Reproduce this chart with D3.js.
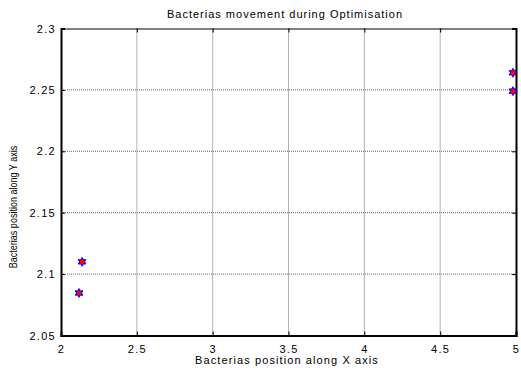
<!DOCTYPE html>
<html>
<head>
<meta charset="utf-8">
<script src="https://cdn.jsdelivr.net/npm/d3@7"></script>
<style>
  body { margin: 0; background: #fff; }
  text { font-family: Arial, "Liberation Sans", sans-serif; }
</style>
</head>
<body>
<svg id="chart"></svg>
<script>
// bacteria positions
let xValues = [2.119, 2.139, 4.98, 4.98];
let yValues = [2.0846, 2.110, 2.264, 2.249];
let xTicks = [2, 2.5, 3, 3.5, 4, 4.5, 5];
let yTicks = [2.05, 2.1, 2.15, 2.2, 2.25, 2.3];

let margin = {top: 28.5, right: 5, bottom: 32.5, left: 61};
let width = 521 - margin.left - margin.right;
let height = 368 - margin.top - margin.bottom;

let svg = d3.select("svg#chart")
    .attr("width", 521)
    .attr("height", 368);

let g = svg.append("g")
    .attr("transform", "translate(" + margin.left + "," + margin.top + ")");

let xScale = d3.scaleLinear().domain([2, 5]).range([0, width]);
let yScale = d3.scaleLinear().domain([2.05, 2.3]).range([height, 0]);

// grid
g.append("g")
    .selectAll("line")
    .data(xTicks.slice(1, -1))
    .enter().append("line")
    .attr("x1", (d) => xScale(d)).attr("x2", (d) => xScale(d))
    .attr("y1", 0).attr("y2", height)
    .attr("stroke", "#666").attr("stroke-width", 1)
    .attr("stroke-dasharray", "1,1")

g.append("g")
    .selectAll("line")
    .data(yTicks.slice(1, -1))
    .enter().append("line")
    .attr("y1", (d) => yScale(d)).attr("y2", (d) => yScale(d))
    .attr("x1", 0).attr("x2", width)
    .attr("stroke", "#666").attr("stroke-width", 1)
    .attr("stroke-dasharray", "1,1")

// axes with inward ticks
let xAxis = g.append("g")
    .attr("transform", "translate(0," + height + ")")
    .call(d3.axisBottom(xScale).tickValues(xTicks).tickSize(-4).tickPadding(10).tickFormat(d3.format("")))
xAxis.select(".domain").attr("stroke-width", 2)

let xTop = g.append("g")
    .call(d3.axisTop(xScale).tickValues(xTicks).tickSize(-4).tickFormat(""))

let yAxis = g.append("g")
    .call(d3.axisLeft(yScale).tickValues(yTicks).tickSize(-4).tickPadding(5).tickFormat(d3.format("")))
yAxis.select(".domain").attr("stroke-width", 2)

let yRight = g.append("g")
    .attr("transform", "translate(" + width + ",0)")
    .call(d3.axisRight(yScale).tickValues(yTicks).tickSize(-4).tickFormat(""))
yRight.select(".domain").attr("stroke-width", 2)

svg.selectAll(".tick text")
    .attr("font-size", "11px")
    .attr("font-family", "Arial, 'Liberation Sans', sans-serif")
    .attr("letter-spacing", "1.3px")
    .attr("fill", "#000")

// markers: blue hexagram with red centre
let hexagram = (r) => {
    let pts = [];
    for (let i = 0; i < 12; i++) {
        let a = Math.PI / 6 * i - Math.PI / 2;
        let rr = i % 2 === 0 ? r : r * 0.58;
        pts.push([rr * Math.cos(a), rr * Math.sin(a)]);
    }
    return "M" + pts.map((p) => p.join(",")).join("L") + "Z";
}

let points = g.selectAll("g.pt")
    .data(xValues.map((x, i) => ({x: x, y: yValues[i]})))
    .enter().append("g")
    .attr("class", "pt")
    .attr("transform", (d) => "translate(" + xScale(d.x) + "," + yScale(d.y) + ")")

points.append("path")
    .attr("d", hexagram(4.5))
    .attr("fill", "#0000ff")
    .attr("stroke", "#0000ff")
    .attr("stroke-width", 0.8)

points.append("circle")
    .attr("r", 2.5)
    .attr("fill", "#ff0000")

// labels
svg.append("text")
    .attr("x", 285).attr("y", 18)
    .attr("text-anchor", "middle")
    .attr("font-size", "11px")
    .attr("letter-spacing", "1px")
    .text("Bacterias movement during Optimisation")

svg.append("text")
    .attr("x", 287).attr("y", 364)
    .attr("text-anchor", "middle")
    .attr("font-size", "11px")
    .attr("letter-spacing", "1.1px")
    .text("Bacterias position along X axis")

svg.append("text")
    .attr("transform", "translate(17,207) rotate(-90) scale(0.82,1)")
    .attr("text-anchor", "middle")
    .attr("font-size", "11px")
    .text("Bacterias position along Y axis")
</script>
</body>
</html>
